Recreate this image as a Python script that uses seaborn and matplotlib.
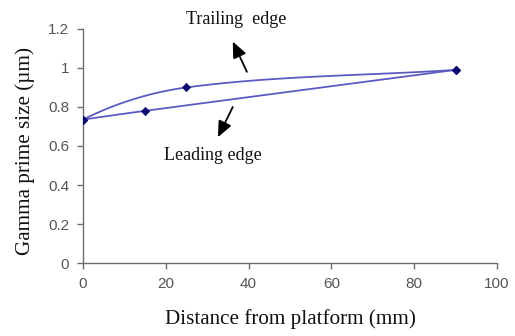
import numpy as np
import matplotlib
matplotlib.use("Agg")
import matplotlib.pyplot as plt
import seaborn as sns

# Gamma prime size along the blade, measured at distances from the platform
leading_x = [0, 15, 90]
leading_y = [0.735, 0.78, 0.99]
trailing_x = [0, 25, 90]
trailing_y = [0.735, 0.90, 0.99]

x_ticks = [0, 20, 40, 60, 80, 100]
y_ticks = [0, 0.2, 0.4, 0.6, 0.8, 1.0, 1.2]
y_tick_labels = ["0", "0.2", "0.4", "0.6", "0.8", "1", "1.2"]

LINE_COLOR = "#5b5bc2"
MARK_COLOR = "#0a0a70"

sns.set_theme(style="white")
plt.rcParams["font.family"] = ["Liberation Sans", "DejaVu Sans"]

fig = plt.figure(figsize=(5.15, 3.36), dpi=100)
ax = fig.add_axes([0.161, 0.217, 0.804, 0.697])
ax.set_xlim(0, 100)
ax.set_ylim(0, 1.2)

# scale factors so the smoothing is computed in an isotropic (pixel-like) space
SX = 414 / 100.0
SY = 234 / 1.2


def smooth_curve(xs, ys, n=60):
    """Bezier curve through the points, spreadsheet-style smoothing."""
    P = np.column_stack([np.asarray(xs) * SX, np.asarray(ys) * SY])
    m = len(P)

    def unit(v):
        return v / np.linalg.norm(v)

    tangents = [None] * m
    for i in range(1, m - 1):
        tangents[i] = unit(P[i + 1] - P[i - 1])
    # start tangent mirrors the neighbouring tangent about the first chord,
    # the curve runs into the last point along its chord
    tangents[0] = unit(2 * unit(P[1] - P[0]) - tangents[1])
    tangents[-1] = unit(P[-1] - P[-2])
    out = []
    for i in range(m - 1):
        p0, p3 = P[i], P[i + 1]
        L = np.linalg.norm(p3 - p0)
        p1 = p0 + tangents[i] * L / 3
        p2 = p3 - tangents[i + 1] * L / 3
        t = np.linspace(0, 1, n)[:, None]
        seg = ((1 - t) ** 3) * p0 + 3 * ((1 - t) ** 2) * t * p1 + 3 * (1 - t) * t ** 2 * p2 + t ** 3 * p3
        out.append(seg if i == 0 else seg[1:])
    c = np.vstack(out)
    return c[:, 0] / SX, c[:, 1] / SY


for xs, ys in [(trailing_x, trailing_y), (leading_x, leading_y)]:
    cx, cy = smooth_curve(xs, ys)
    sns.lineplot(x=cx, y=cy, ax=ax, color=LINE_COLOR, lw=1.3, sort=False, estimator=None)
    sns.scatterplot(x=xs, y=ys, ax=ax, color=MARK_COLOR, marker="D", s=18,
                    edgecolor=MARK_COLOR, linewidth=0.5, zorder=5)

for side in ["top", "right"]:
    ax.spines[side].set_visible(False)
for side in ["left", "bottom"]:
    ax.spines[side].set_color("#6e6e6e")
    ax.spines[side].set_linewidth(1.0)

ax.set_xticks(x_ticks)
ax.set_yticks(y_ticks)
ax.set_yticklabels(y_tick_labels)
ax.tick_params(axis="both", direction="out", length=4, width=1.0, color="#6e6e6e",
               labelsize=11, labelcolor="#555555", pad=6, bottom=True, left=True)

serif = ["Liberation Serif", "DejaVu Serif"]
ax.set_xlabel("Distance from platform (mm)", fontsize=15.2, family=serif, color="#111111", labelpad=13)
ax.set_ylabel("Gamma prime size (\u00b5m)", fontsize=15.2, family=serif, color="#111111", labelpad=9)
ax.yaxis.label.set_y(0.478)

ax.text(37, 1.25, "Trailing  edge", fontsize=13, family=serif, color="#111111", ha="center", va="center")
ax.text(31.4, 0.552, "Leading edge", fontsize=13, family=serif, color="#111111", ha="center", va="center")

arrow = dict(arrowstyle="-|>,head_length=0.8,head_width=0.35", color="black", lw=1.3,
             mutation_scale=12, shrinkA=0, shrinkB=0)
ax.annotate("", xy=(36.2, 1.135), xytext=(39.6, 0.98), arrowprops=arrow)
ax.annotate("", xy=(32.6, 0.645), xytext=(36.2, 0.80), arrowprops=arrow)

fig.savefig("out.png", dpi=100)
